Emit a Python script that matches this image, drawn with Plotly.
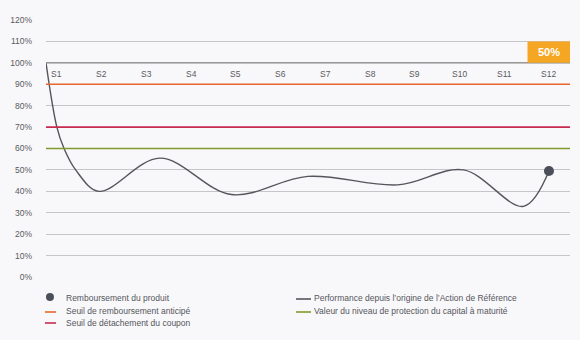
import plotly.graph_objects as go

# ---- data ----
perf_x = [0.757, 1.0, 1.16, 1.42, 1.94, 3.30, 4.90, 6.61, 8.62, 10.09, 11.43, 12.0]
perf_y = [100, 70, 60, 50, 40, 55.5, 38.5, 47, 43, 50, 33, 49.5]
obs_labels = ["S1", "S2", "S3", "S4", "S5", "S6", "S7", "S8", "S9", "S10", "S11", "S12"]
obs_pos = list(range(1, 13))
seuil_remb = 90
seuil_coupon = 70
protection = 60
final_value = 50
y_ticks = list(range(0, 130, 10))

W, H = 580, 340
L, R, T, B = 44, 10, 20, 63
X0, X1 = 0.757, 12.47

def px_x(p):
    return (p - L) / (W - L - R)

def px_y(p):
    return (H - B - p) / (H - T - B)

fig = go.Figure()

# threshold lines
for val, col in [(seuil_remb, "#E8652B"), (seuil_coupon, "#C72A4E"), (protection, "#7F9A2C")]:
    fig.add_shape(type="line", xref="paper", x0=0, x1=1, yref="y", y0=val, y1=val,
                  line=dict(color=col, width=1.6), layer="above")

# top border at 100%
fig.add_shape(type="line", xref="paper", x0=0, x1=1, yref="y", y0=100, y1=100,
              line=dict(color="#8a8a8a", width=1.2), layer="above")

fig.add_trace(go.Scatter(x=perf_x, y=perf_y, mode="lines",
                         line=dict(color="#55555c", width=1.4, shape="spline", smoothing=1.0),
                         hoverinfo="skip", showlegend=False))
fig.add_trace(go.Scatter(x=[perf_x[-1]], y=[perf_y[-1]], mode="markers",
                         marker=dict(color="#4a4f5a", size=10), showlegend=False))

# observation labels
for xp, lab in zip(obs_pos, obs_labels):
    fig.add_annotation(x=xp, y=95, text=lab, showarrow=False, xanchor="center", yanchor="middle",
                       font=dict(size=8.5, color="#5a5a60", family="Liberation Sans"))

# orange value box
fig.add_shape(type="rect", xref="x", yref="y", x0=11.52, x1=X1, y0=100, y1=110,
              fillcolor="#F5A623", line=dict(width=0), layer="above")
fig.add_annotation(x=(11.52 + X1) / 2, y=105, text=f"<b>{final_value}%</b>", showarrow=False,
                   font=dict(size=11, color="white", family="Liberation Sans"))

# legend
leg_font = dict(size=8.5, color="#55555c", family="Liberation Sans")
fig.add_shape(type="circle", xref="paper", yref="paper",
              x0=px_x(44), x1=px_x(52), y0=px_y(301), y1=px_y(293),
              fillcolor="#4a4f5a", line=dict(width=0))
fig.add_shape(type="line", xref="paper", yref="paper", x0=px_x(43), x1=px_x(54),
              y0=px_y(312), y1=px_y(312), line=dict(color="#E8652B", width=1.6))
fig.add_shape(type="line", xref="paper", yref="paper", x0=px_x(43), x1=px_x(54),
              y0=px_y(323), y1=px_y(323), line=dict(color="#C72A4E", width=1.6))
fig.add_shape(type="line", xref="paper", yref="paper", x0=px_x(295), x1=px_x(310),
              y0=px_y(299), y1=px_y(299), line=dict(color="#55555c", width=1.6))
fig.add_shape(type="line", xref="paper", yref="paper", x0=px_x(295), x1=px_x(310),
              y0=px_y(312), y1=px_y(312), line=dict(color="#7F9A2C", width=1.6))
legend_items = [
    (62, 298, "Remboursement du produit"),
    (62, 311, "Seuil de remboursement anticipé"),
    (62, 323, "Seuil de détachement du coupon"),
    (311, 298, "Performance depuis l’origine de l’Action de Référence"),
    (311, 311, "Valeur du niveau de protection du capital à maturité"),
]
for xpix, ypix, txt in legend_items:
    fig.add_annotation(xref="paper", yref="paper", x=px_x(xpix), y=px_y(ypix), text=txt,
                       showarrow=False, xanchor="left", yanchor="middle", font=leg_font)

fig.update_layout(
    width=W, height=H,
    margin=dict(l=L, r=R, t=T, b=B),
    paper_bgcolor="#f8f8fa", plot_bgcolor="#f8f8fa",
    showlegend=False,
    xaxis=dict(range=[X0, X1], showgrid=False, zeroline=False, showticklabels=False,
               showline=False, fixedrange=True),
    yaxis=dict(range=[0, 120], tickvals=y_ticks, ticktext=[f"{v}%" for v in y_ticks],
               showgrid=True, gridcolor="#c6c6c8", gridwidth=1.2, zeroline=False,
               ticklabelstandoff=13, ticks="",
               tickfont=dict(size=8.5, color="#5a5a60", family="Liberation Sans")),
)

fig.write_html("out.html")
